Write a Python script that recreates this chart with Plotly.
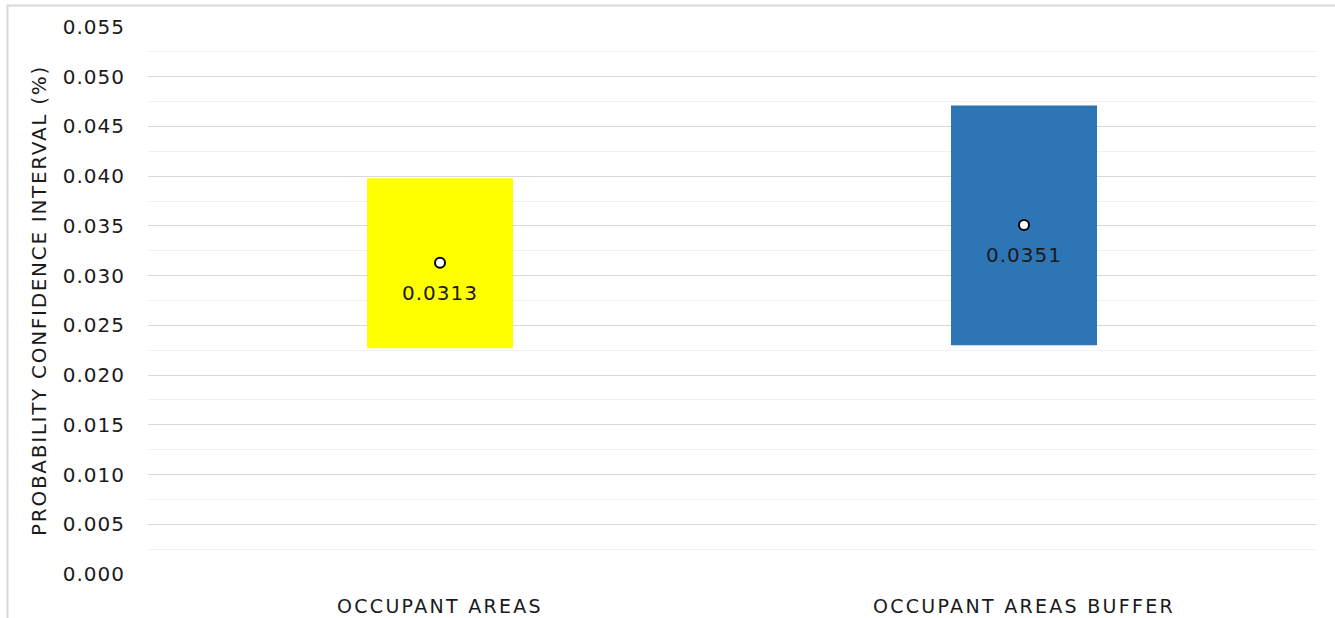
import plotly.graph_objects as go

categories = ["OCCUPANT AREAS", "OCCUPANT AREAS BUFFER"]
lower = [0.0227, 0.0230]
upper = [0.0398, 0.0471]
mean = [0.0313, 0.0351]
bar_colors = ["#FFFF00", "#2E75B6"]
y_ticks = [0.000, 0.005, 0.010, 0.015, 0.020, 0.025, 0.030, 0.035, 0.040, 0.045, 0.050, 0.055]

W, H = 1335, 618
ml, mr, mt, mb = 148, 19, 27, 44
TXT = "#1a1a1a"

fig = go.Figure()
fig.add_trace(go.Bar(
    x=categories,
    y=[u - l for u, l in zip(upper, lower)],
    base=lower,
    marker=dict(color=bar_colors, line=dict(width=0)),
    hoverinfo="skip",
    showlegend=False,
))
fig.add_trace(go.Scatter(
    x=categories,
    y=mean,
    mode="markers",
    marker=dict(size=10, color="white", line=dict(color="black", width=2)),
    hoverinfo="skip",
    showlegend=False,
))
for c, v in zip(categories, mean):
    fig.add_annotation(x=c, y=v, text=f"{v:.4f}", showarrow=False,
                       yshift=-30, font=dict(family="DejaVu Sans", size=20, color=TXT))

fig.update_layout(
    width=W, height=H, autosize=False,
    margin=dict(l=ml, r=mr, t=mt, b=mb),
    paper_bgcolor="white",
    plot_bgcolor="white",
    bargap=0.75,
    font=dict(family="DejaVu Sans", color=TXT),
)
fig.update_xaxes(
    automargin=False,
    showgrid=False, zeroline=False, showline=False,
    tickfont=dict(size=19, color=TXT),
    ticklabelstandoff=19,
)
fig.update_yaxes(
    automargin=False,
    range=[0, 0.055],
    tickvals=y_ticks,
    ticktext=[f"{v:.3f}" for v in y_ticks],
    showgrid=True, gridcolor="#D9D9D9", gridwidth=1,
    minor=dict(dtick=0.0025, showgrid=True, gridcolor="#F0F0F0", gridwidth=1),
    zeroline=False, showline=False,
    tickfont=dict(size=20, color=TXT),
    ticklabelstandoff=22,
    title=dict(text="PROBABILITY CONFIDENCE INTERVAL (%)", font=dict(size=20, color=TXT), standoff=15),
)

pw = W - ml - mr
ph = H - mt - mb
def px_x(p):
    return (p - ml) / pw
def px_y(p):
    return (H - mb - p) / ph

fig.add_shape(type="rect", xref="paper", yref="paper",
              x0=px_x(7.5), x1=px_x(1340), y0=px_y(625), y1=px_y(5.5),
              line=dict(color="#D9D9D9", width=2), fillcolor="rgba(0,0,0,0)", layer="below")

post = """
document.body.style.margin='0';
document.body.style.overflow='hidden';
document.documentElement.style.overflow='hidden';
var gd = document.getElementsByClassName('plotly-graph-div')[0];
function spacing(){
  gd.querySelectorAll('.ytick text').forEach(function(t){t.style.letterSpacing='1px';});
  gd.querySelectorAll('.xtick text').forEach(function(t){t.style.letterSpacing='2.3px';});
  gd.querySelectorAll('.g-ytitle text').forEach(function(t){t.style.letterSpacing='1.7px';});
  gd.querySelectorAll('.annotation-text').forEach(function(t){t.style.letterSpacing='1px';});
}
spacing();
gd.on('plotly_afterplot', spacing);
"""

fig.write_html("out.html", post_script=post,
               config={"responsive": False, "displayModeBar": False, "staticPlot": True})
